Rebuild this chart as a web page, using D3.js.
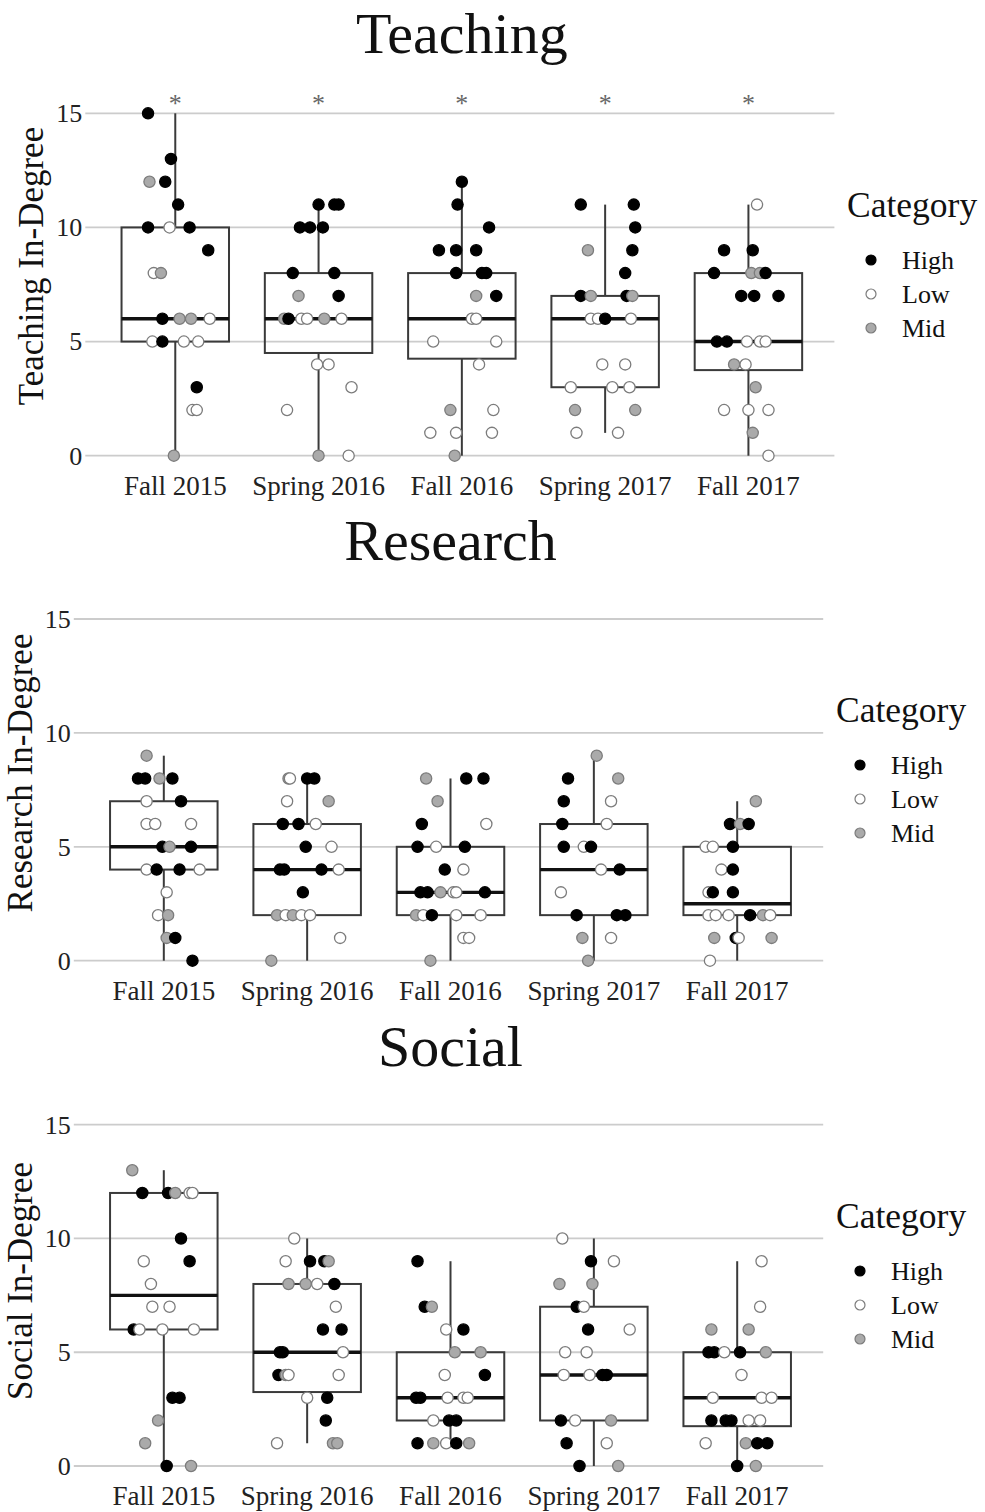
<!DOCTYPE html>
<html>
<head>
<meta charset="utf-8">
<script src="https://cdn.jsdelivr.net/npm/d3@7"></script>
<style>
  body { margin: 0; background: #fff; }
  svg { display: block; font-family: "Liberation Serif", "Times New Roman", serif; }
</style>
</head>
<body>
<svg id="chart" width="985" height="1512"></svg>
<script>
// ---------- shared ----------
const seasons = ["Fall 2015", "Spring 2016", "Fall 2016", "Spring 2017", "Fall 2017"];
const categories = ["High", "Low", "Mid"];
const yTicks = [0, 5, 10, 15];

// ---------- Teaching in-degree ----------
const teachingValues = [
  [15,13,12,12,11,10,10,10,9,8,8,6,6,6,6,5,5,5,5,3,2,2,0],
  [11,11,11,10,10,10,8,8,7,7,6,6,6,6,6,6,4,4,3,2,0,0],
  [12,11,10,9,9,9,8,8,8,7,7,6,6,5,5,4,2,2,1,1,1,0],
  [11,11,10,9,9,8,7,7,7,7,6,6,6,6,4,4,3,3,3,2,2,1,1],
  [11,9,9,8,8,8,8,7,7,7,5,5,5,5,5,4,4,3,2,2,2,1,0]
];
const teachingCats = [
  "HHMHHHLHHLMHMMLLHLLHLLM",
  "HHHHHHHHMHMHLLMLLLLLML",
  "HHHHHHHHHMHLLLLLMLLLLM",
  "HHHMHHHMHMLLHLLLLLLMMLL",
  "LHHHMMHHHHHHLLLMLMLLLML"
];
// horizontal jitter draws, in units of one category step
const teachingJitter = [
  [-0.19,-0.03,-0.18,-0.07,0.02,-0.19,-0.04,0.10,0.23,-0.15,-0.10,-0.09,0.03,0.11,0.24,-0.16,-0.09,0.06,0.16,0.15,0.12,0.15,-0.01],
  [0.00,0.11,0.14,-0.13,-0.06,0.03,-0.18,0.11,-0.14,0.14,-0.24,-0.21,-0.12,-0.08,0.04,0.16,-0.01,0.07,0.23,-0.22,0.00,0.21],
  [0.00,-0.03,0.19,-0.16,-0.04,0.10,-0.04,0.14,0.17,0.10,0.24,0.07,0.10,-0.20,0.24,0.12,-0.08,0.22,-0.22,-0.04,0.21,-0.05],
  [-0.17,0.20,0.21,-0.12,0.19,0.14,-0.17,-0.10,0.15,0.19,-0.10,-0.05,0.00,0.18,-0.02,0.14,-0.24,0.05,0.17,-0.21,0.21,-0.20,0.09],
  [0.06,-0.17,0.03,-0.24,0.02,0.08,0.12,-0.05,0.04,0.21,-0.22,-0.15,-0.01,0.08,0.12,-0.10,-0.02,0.05,-0.17,0.00,0.14,0.03,0.14]
];
// [lower whisker, Q1, median, Q3, upper whisker]
const teachingBox = [[0,5,6,10,15],[0,4.5,6,8,11],[0,4.25,6,8,12],[1,3,6,7,11],[0,3.75,5,8,11]];
const teachingSignif = ["*", "*", "*", "*", "*"];

// ---------- Research in-degree ----------
const researchValues = [
  [9,8,8,8,8,7,7,6,6,6,5,5,5,4,4,4,4,3,2,2,1,1,0],
  [8,8,8,8,7,7,6,6,6,5,5,4,4,4,4,3,2,2,2,2,2,1,0],
  [8,8,8,7,6,6,5,5,5,4,4,3,3,3,3,3,3,2,2,2,2,2,1,1,0],
  [9,8,8,7,7,6,6,5,5,5,4,4,3,2,2,2,1,1,0],
  [7,6,6,6,5,5,5,4,4,3,3,3,2,2,2,2,2,2,1,1,1,1,0]
];
const researchCats = [
  "MHHMHLHLLLHMHLHHLLLMMHH",
  "MLHHLMHHLHLHHHLHMLMLLLM",
  "MHHMHLHLHHLHHMLLHMLHLLLLM",
  "MHMHLHLHLHLHLHHHMLM",
  "MHMHLLHLHLHHLLLHMLMHLML"
];
const researchJitter = [
  [-0.12,-0.18,-0.13,-0.03,0.06,-0.12,0.12,-0.12,-0.06,0.19,-0.01,0.04,0.19,-0.12,-0.05,0.11,0.25,0.02,-0.04,0.03,0.02,0.08,0.20],
  [-0.13,-0.12,0.00,0.05,-0.14,0.15,-0.17,-0.06,0.06,-0.01,0.17,-0.19,-0.16,0.10,0.22,-0.03,-0.21,-0.15,-0.10,-0.04,0.02,0.23,-0.25],
  [-0.17,0.11,0.23,-0.09,-0.20,0.25,-0.23,-0.10,0.10,-0.04,0.09,-0.21,-0.16,-0.07,0.02,0.04,0.24,-0.24,-0.19,-0.13,0.04,0.21,0.09,0.13,-0.14],
  [0.02,-0.18,0.17,-0.21,0.12,-0.22,0.09,-0.21,-0.07,-0.02,0.05,0.18,-0.23,-0.12,0.16,0.22,-0.08,0.12,-0.04],
  [0.13,-0.05,0.02,0.08,-0.22,-0.17,-0.03,-0.11,-0.03,-0.20,-0.17,-0.03,-0.20,-0.15,-0.06,0.09,0.18,0.23,-0.16,-0.01,0.01,0.24,-0.19]
];
const researchBox = [[0,4,5,7,9],[0,2,4,6,8],[0,2,3,5,8],[0,2,4,6,9],[0,2,2.5,5,7]];
const researchSignif = ["", "", "", "", ""];

// ---------- Social in-degree ----------
const socialValues = [
  [13,12,12,12,12,12,10,9,9,8,7,7,6,6,6,6,3,3,2,1,0,0],
  [10,9,9,9,9,8,8,8,8,7,6,6,5,5,5,4,4,4,4,3,3,2,1,1,1],
  [9,7,7,6,6,5,5,4,4,3,3,3,3,3,2,2,2,1,1,1,1,1],
  [10,9,9,8,8,7,7,6,6,5,5,4,4,4,4,2,2,2,1,1,0,0],
  [9,7,6,6,5,5,5,5,5,4,3,3,3,2,2,2,2,2,1,1,1,1,0,0]
];
const socialCats = [
  "MHHMLLHLHLLLHLLLHHMMHM",
  "LLHHMMMLHLHHHHLHMLLLHHLMM",
  "HHMLHMMLHHHLLLLHHHMLHM",
  "LHLMMHLHLLLLLHHHLMHLHM",
  "LLMMHHLHMLLLLHHHLLLMHHHM"
];
const socialJitter = [
  [-0.22,-0.15,0.03,0.08,0.18,0.20,0.12,-0.14,0.18,-0.09,-0.08,0.04,-0.21,-0.17,-0.01,0.21,0.06,0.11,-0.04,-0.13,0.02,0.19],
  [-0.09,-0.15,0.02,0.12,0.15,-0.13,-0.01,0.07,0.19,0.20,0.11,0.24,-0.19,-0.17,0.25,-0.20,-0.15,-0.13,0.22,0.00,0.14,0.13,-0.21,0.18,0.21],
  [-0.23,-0.18,-0.13,-0.03,0.09,0.03,0.21,-0.04,0.24,-0.24,-0.21,-0.02,0.09,0.12,-0.12,-0.01,0.04,-0.23,-0.12,-0.03,0.04,0.13],
  [-0.22,-0.02,0.14,-0.24,-0.01,-0.12,-0.07,-0.04,0.25,-0.20,-0.05,-0.21,-0.03,0.06,0.09,-0.23,-0.13,0.12,-0.19,0.09,-0.10,0.17],
  [0.17,0.16,-0.18,0.08,-0.20,-0.16,-0.09,0.02,0.20,0.03,-0.17,0.17,0.24,-0.18,-0.08,-0.04,0.08,0.16,-0.22,0.06,0.14,0.21,0.00,0.13]
];
const socialBox = [[0,6,7.5,12,13],[1,3.25,5,8,10],[1,2,3,5,9],[0,2,4,7,10],[0,1.75,3,5,9]];
const socialSignif = ["", "", "", "", ""];

// ---------- styling ----------
const catFill   = d3.scaleOrdinal().domain(categories).range(["#000000", "#ffffff", "#aaaaaa"]);
const catStroke = d3.scaleOrdinal().domain(categories).range(["#000000", "#7c7c7c", "#7c7c7c"]);
const codeToCat = { H: "High", L: "Low", M: "Mid" };

const panels = [
  { title: "Teaching", yLabel: "Teaching In-Degree",
    values: teachingValues, cats: teachingCats, jitter: teachingJitter, box: teachingBox, signif: teachingSignif,
    left: 89.3, right: 834.4, yBottom: 455.7, yTop: 113.3,
    titleY: 53, yLabelX: 43, yLabelY: 266, legendX: 847, legendY: 217 },
  { title: "Research", yLabel: "Research In-Degree",
    values: researchValues, cats: researchCats, jitter: researchJitter, box: researchBox, signif: researchSignif,
    left: 77.8, right: 823.2, yBottom: 960.7, yTop: 619,
    titleY: 560, yLabelX: 32, yLabelY: 773, legendX: 836, legendY: 722 },
  { title: "Social", yLabel: "Social In-Degree",
    values: socialValues, cats: socialCats, jitter: socialJitter, box: socialBox, signif: socialSignif,
    left: 77.8, right: 823.2, yBottom: 1466, yTop: 1124.7,
    titleY: 1066, yLabelX: 32, yLabelY: 1281, legendX: 836, legendY: 1228 }
];

const svg = d3.select("#chart");

function drawPanel(p) {
  const g = svg.append("g");
  const x = d3.scalePoint().domain(seasons).range([p.left, p.right]).padding(0.6);
  const y = d3.scaleLinear().domain([0, 15]).range([p.yBottom, p.yTop]);
  const step = x.step();
  const boxW = step * 0.75;

  // horizontal grid + tick marks
  g.append("g").selectAll("line").data(yTicks).join("line")
    .attr("x1", p.left - 4).attr("x2", p.right)
    .attr("y1", d => y(d)).attr("y2", d => y(d))
    .attr("stroke", "#cccccc").attr("stroke-width", 1.8);

  // y tick labels
  g.append("g").selectAll("text").data(yTicks).join("text")
    .attr("x", p.left - 7).attr("y", d => y(d)).attr("dy", "0.34em")
    .attr("text-anchor", "end").attr("font-size", 26).attr("fill", "#222")
    .text(d => d);

  // x tick labels
  g.append("g").selectAll("text").data(seasons).join("text")
    .attr("x", d => x(d)).attr("y", p.yBottom + 39)
    .attr("text-anchor", "middle").attr("font-size", 27).attr("fill", "#222")
    .text(d => d);

  // boxplots
  const boxes = g.append("g").selectAll("g").data(p.box.map((b, i) => ({ s: seasons[i], b }))).join("g");
  boxes.append("line")
    .attr("x1", d => x(d.s)).attr("x2", d => x(d.s))
    .attr("y1", d => y(d.b[3])).attr("y2", d => y(d.b[4]))
    .attr("stroke", "#3a3a3a").attr("stroke-width", 2);
  boxes.append("line")
    .attr("x1", d => x(d.s)).attr("x2", d => x(d.s))
    .attr("y1", d => y(d.b[0])).attr("y2", d => y(d.b[1]))
    .attr("stroke", "#3a3a3a").attr("stroke-width", 2);
  boxes.append("rect")
    .attr("x", d => x(d.s) - boxW / 2).attr("width", boxW)
    .attr("y", d => y(d.b[3])).attr("height", d => y(d.b[1]) - y(d.b[3]))
    .attr("fill", "none").attr("stroke", "#3a3a3a").attr("stroke-width", 2);
  boxes.append("line")
    .attr("x1", d => x(d.s) - boxW / 2).attr("x2", d => x(d.s) + boxW / 2)
    .attr("y1", d => y(d.b[2])).attr("y2", d => y(d.b[2]))
    .attr("stroke", "#111").attr("stroke-width", 3.4);

  // jittered points
  const pts = [];
  p.values.forEach((vals, i) => {
    vals.forEach((v, k) => {
      pts.push({ s: seasons[i], v, cat: codeToCat[p.cats[i][k]], j: p.jitter[i][k] });
    });
  });
  g.append("g").selectAll("circle").data(pts).join("circle")
    .attr("cx", d => x(d.s) + d.j * step)
    .attr("cy", d => y(d.v))
    .attr("r", 5.6)
    .attr("fill", d => catFill(d.cat))
    .attr("stroke", d => catStroke(d.cat))
    .attr("stroke-width", 1.3);

  // significance markers
  g.append("g").selectAll("text").data(p.signif.map((t, i) => ({ s: seasons[i], t }))).join("text")
    .attr("x", d => x(d.s)).attr("y", y(15) - 1)
    .attr("text-anchor", "middle").attr("font-size", 26).attr("fill", "#666")
    .text(d => d.t);

  // title
  g.append("text")
    .attr("x", (p.left + p.right) / 2).attr("y", p.titleY)
    .attr("text-anchor", "middle").attr("font-size", 58).attr("fill", "#111")
    .text(p.title);

  // y axis title
  g.append("text")
    .attr("transform", `translate(${p.yLabelX},${p.yLabelY}) rotate(-90)`)
    .attr("text-anchor", "middle").attr("font-size", 35).attr("fill", "#111")
    .text(p.yLabel);

  // legend
  const lg = g.append("g").attr("transform", `translate(${p.legendX},${p.legendY})`);
  lg.append("text").attr("x", 0).attr("y", 0).attr("font-size", 35.5).attr("fill", "#111").text("Category");
  const items = lg.selectAll("g.item").data(categories).join("g")
    .attr("transform", (d, i) => `translate(0,${43 + i * 34})`);
  items.append("circle").attr("cx", 24).attr("cy", 0).attr("r", 5)
    .attr("fill", d => catFill(d)).attr("stroke", d => catStroke(d)).attr("stroke-width", 1.2);
  items.append("text").attr("x", 55).attr("y", 8.5).attr("font-size", 26).attr("fill", "#111").text(d => d);
}

panels.forEach(drawPanel);
</script>
</body>
</html>
